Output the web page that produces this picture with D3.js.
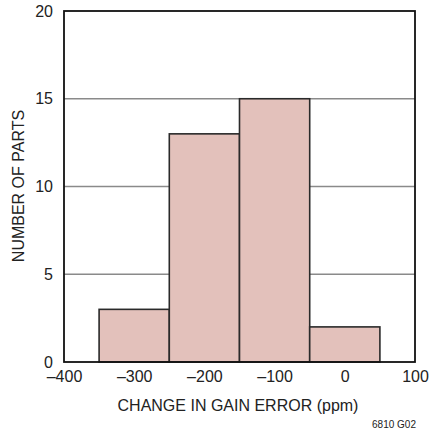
<!DOCTYPE html>
<html><head><meta charset="utf-8">
<script src="https://cdn.jsdelivr.net/npm/d3@7"></script>
<style>
html,body{margin:0;padding:0;background:#fff;}
text{font-family:"Liberation Sans Narrow","Arial Narrow","Liberation Sans",sans-serif;fill:#222;}
</style></head>
<body>
<svg id="c" width="429" height="433"></svg>
<script>
const binStarts = [-350, -250, -150, -50];
const binEnds = [-250, -150, -50, 50];
const counts = [3, 13, 15, 2];
const xTicks = [-400, -300, -200, -100, 0, 100];
const xTickLabels = ["–400", "–300", "–200", "–100", "0", "100"];
const yTicks = [0, 5, 10, 15, 20];
const xTitle = "CHANGE IN GAIN ERROR (ppm)";
const yTitle = "NUMBER OF PARTS";
const note = "6810 G02";

const svg = d3.select("#c");
const L = 64, R = 415, T = 11, B = 362;
const x = d3.scaleLinear().domain([-400, 100]).range([L, R]);
const y = d3.scaleLinear().domain([0, 20]).range([B, T]);

// gridlines
svg.append("g").selectAll("line").data(yTicks.filter(d => d > 0 && d < 20)).join("line")
  .attr("x1", L).attr("x2", R).attr("y1", d => y(d)).attr("y2", d => y(d))
  .attr("stroke", "#8a8a8a").attr("stroke-width", 1.5);

// bars
svg.append("g").selectAll("rect").data(counts).join("rect")
  .attr("x", (d, i) => x(binStarts[i]))
  .attr("width", (d, i) => x(binEnds[i]) - x(binStarts[i]))
  .attr("y", d => y(d))
  .attr("height", d => B - y(d))
  .attr("fill", "#e3c1bb").attr("stroke", "#2a2a2a").attr("stroke-width", 1.6);

// frame
svg.append("rect").attr("x", L).attr("y", T).attr("width", R - L).attr("height", B - T)
  .attr("fill", "none").attr("stroke", "#111").attr("stroke-width", 1.8);

// x axis
const xa = d3.axisBottom(x).tickValues(xTicks).tickSize(0).tickPadding(9)
  .tickFormat((d, i) => xTickLabels[i]);
const gx = svg.append("g").attr("transform", `translate(0,${B})`).call(xa);
gx.select(".domain").remove();
gx.selectAll("text").attr("font-size", 16).attr("font-family", null).attr("fill", "#222");

// y axis
const ya = d3.axisLeft(y).tickValues(yTicks).tickSize(0).tickPadding(11);
const gy = svg.append("g").attr("transform", `translate(${L},0)`).call(ya);
gy.select(".domain").remove();
gy.selectAll("text").attr("font-size", 16).attr("font-family", null).attr("fill", "#222");

// titles
svg.append("text").attr("x", 238).attr("y", 411).attr("text-anchor", "middle")
  .attr("font-size", 16).text(xTitle);
svg.append("text").attr("transform", "translate(24,186) rotate(-90)")
  .attr("text-anchor", "middle").attr("font-size", 16).text(yTitle);
svg.append("text").attr("x", 416).attr("y", 428).attr("text-anchor", "end")
  .attr("font-size", 10).text(note);
</script>
</body></html>
